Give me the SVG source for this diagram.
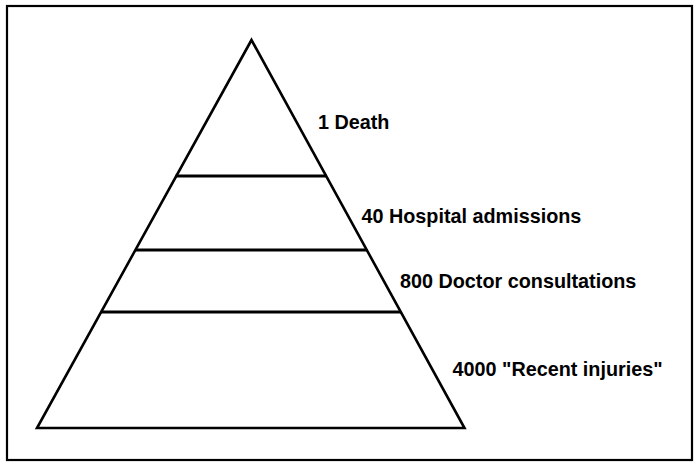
<svg xmlns="http://www.w3.org/2000/svg" width="694" height="462" viewBox="0 0 694 462">
  <style>
    .frame { fill: none; stroke: #000; stroke-width: 2.2; }
    .tri { fill: #fff; stroke: #000; stroke-width: 2.6; stroke-linejoin: miter; }
    .tier { stroke: #000; stroke-width: 2.8; fill: none; }
    .lbl { font-family: "Liberation Sans", Arial, Helvetica, sans-serif; font-weight: bold; font-size: 19.8px; fill: #000; }
  </style>
  <rect width="694" height="462" fill="#fff"/>
  <rect class="frame" x="7" y="6" width="685" height="454"/>
  <g id="pyramid">
    <polygon class="tri" points="251.5,40 37,428 464.5,428"/>
  </g>
  <g id="connectors">
    <line class="tier" x1="175.5" y1="176" x2="327" y2="176"/>
    <line class="tier" x1="135" y1="250" x2="367" y2="250"/>
    <line class="tier" x1="101" y1="312" x2="401" y2="312"/>
  </g>
  <g id="label-death">
    <text class="lbl" x="318" y="128.5">1 Death</text>
  </g>
  <g id="label-hospital">
    <text class="lbl" x="361.5" y="223">40 Hospital admissions</text>
  </g>
  <g id="label-doctor">
    <text class="lbl" x="400" y="287.5">800 Doctor consultations</text>
  </g>
  <g id="label-injuries">
    <text class="lbl" x="452.5" y="376">4000 "Recent injuries"</text>
  </g>
</svg>
